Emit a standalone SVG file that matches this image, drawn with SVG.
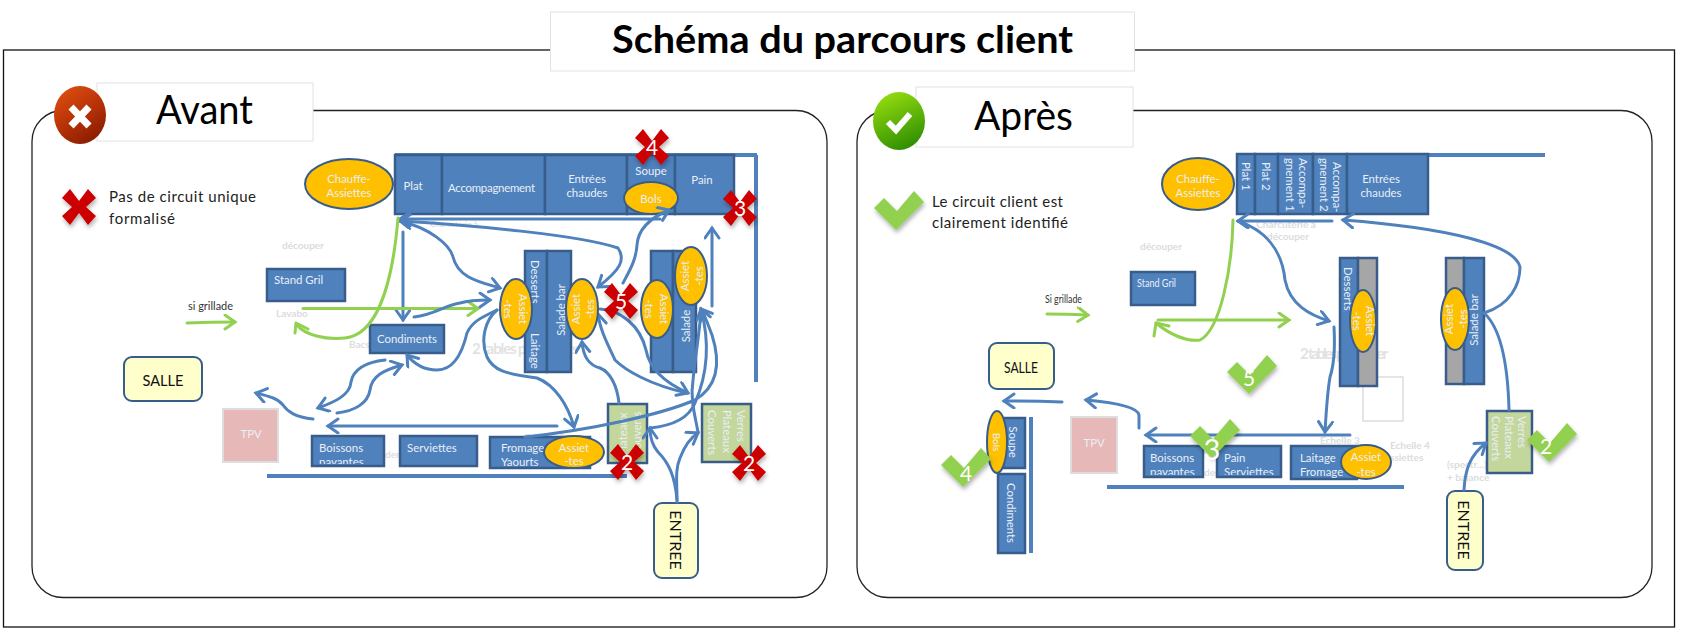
<svg xmlns="http://www.w3.org/2000/svg" xmlns:xlink="http://www.w3.org/1999/xlink" width="1686" height="640" viewBox="0 0 1686 640">
<style>
text{font-family:"Lato","Open Sans","Liberation Sans",sans-serif}
.lab{fill:#fff;stroke:#e2e2e2;stroke-width:1}
.box{fill:#4f81bd;stroke:#385d8a;stroke-width:2.5}
.gray{fill:#a6a6a6;stroke:#385d8a;stroke-width:2.5}
.lime{fill:#c3d69b;stroke:#385d8a;stroke-width:2.5}
.oval{fill:#ffc000;stroke:#385d8a;stroke-width:2}
.cream{fill:#ffffcc;stroke:#385d8a;stroke-width:2}
.tpv{fill:#e6b9b8;stroke:#dddddd;stroke-width:2}
.bar{fill:none;stroke:#4f81bd;stroke-width:4}
.w{fill:#e9eff7;font-size:11.4px}
.wm{fill:#e9eff7;font-size:11.4px;text-anchor:middle}
.k{fill:#111;font-size:16px;text-anchor:middle}
.t{fill:#222;font-size:15px}
.s{fill:#333;font-size:11px}
.f{fill:#dcdcdc;font-size:10px;font-weight:700}
.fb{fill:#e2e2e2;font-size:15px;font-weight:700}
.n{fill:#fff;font-size:21px;text-anchor:middle}
.c{fill:none;stroke:#4f81bd;stroke-width:3;stroke-linecap:round}
.ca{marker-end:url(#ab)}
.g{fill:none;stroke:#92d050;stroke-width:3;stroke-linecap:round}
.ga{marker-end:url(#ag)}
.x{fill:#cc0000;filter:url(#sh)}
.v{fill:#92d050;filter:url(#sh)}
</style>
<defs>
<marker id="ab" markerUnits="userSpaceOnUse" markerWidth="16" markerHeight="18" refX="12" refY="8" orient="auto-start-reverse"><path d="M2 1L12 8L2 15" fill="none" stroke="#4f81bd" stroke-width="3" stroke-linecap="round"/></marker>
<marker id="ag" markerUnits="userSpaceOnUse" markerWidth="16" markerHeight="18" refX="12" refY="8" orient="auto"><path d="M2 1L12 8L2 15" fill="none" stroke="#92d050" stroke-width="3" stroke-linecap="round"/></marker>
<filter id="sh" x="-30%" y="-30%" width="170%" height="170%"><feDropShadow dx="1" dy="3" stdDeviation="2" flood-color="#000" flood-opacity=".3"/></filter>
<linearGradient id="rg" x1="0.2" y1="0" x2="0.8" y2="1"><stop offset="0" stop-color="#dc4f10"/><stop offset=".5" stop-color="#b83208"/><stop offset="1" stop-color="#841a00"/></linearGradient>
<linearGradient id="gg" x1="0.3" y1="0" x2="0.7" y2="1"><stop offset="0" stop-color="#94dc10"/><stop offset="1" stop-color="#2c8c00"/></linearGradient>
<polygon id="cross" points="-17,-9 -9,-18 0,-6 9,-18 17,-9 7,0 17,9 9,18 0,6 -9,18 -17,9 -7,0"/>
<polygon id="check" points="-22,-22 -12,-32 1,-19 18,-39 28,-28 0,0"/>
<clipPath id="c1"><rect x="312" y="436" width="72" height="28"/></clipPath>
<clipPath id="c2"><rect x="1144" y="446" width="140" height="29"/></clipPath>
</defs>
<rect width="1686" height="640" fill="#fff"/>
<g id="frames">
<rect x="3.500" y="50" width="1671" height="577" fill="none" stroke="#111" stroke-width="1.3"/>
<rect x="32" y="110.500" width="795" height="487" rx="31" fill="#fff" stroke="#222" stroke-width="1.3"/>
<rect x="857" y="110.500" width="795" height="487" rx="31" fill="#fff" stroke="#222" stroke-width="1.3"/>
</g>
<g id="title"><rect class="lab" x="550.500" y="12" width="584" height="59"/><text x="612" y="53" font-size="38" font-weight="700" fill="#000" textLength="461" lengthAdjust="spacingAndGlyphs">Schéma du parcours client</text></g>
<g id="avant-label"><rect class="lab" x="97" y="83" width="216" height="58"/><text x="156" y="124" font-size="40" fill="#000" textLength="97" lengthAdjust="spacingAndGlyphs">Avant</text>
<ellipse cx="80" cy="115" rx="26" ry="29" fill="url(#rg)"/><path d="M71 107L89 126M89 107L71 126" stroke="#fff" stroke-width="7"/></g>
<g id="apres-label"><rect class="lab" x="916" y="87" width="217" height="60"/><text x="974" y="130" font-size="40" fill="#000" textLength="99" lengthAdjust="spacingAndGlyphs">Après</text>
<ellipse cx="899" cy="121" rx="26" ry="29" fill="url(#gg)"/><path d="M888 122L896 130L910 114" fill="none" stroke="#fff" stroke-width="6"/></g>
<g id="note-avant"><use href="#cross" class="x" transform="translate(79,207)"/><text class="t" x="109" y="202" textLength="147">Pas de circuit unique</text><text class="t" x="109" y="224" textLength="66">formalisé</text></g>
<g id="note-apres"><use href="#check" class="v" transform="translate(896,230)"/><text class="t" x="932" y="207" textLength="131">Le circuit client est</text><text class="t" x="932" y="228" textLength="136">clairement identifié</text></g>

<g id="faint">
<text class="f" x="303" y="249" text-anchor="middle">découper</text><text class="f" x="276" y="317">Lavabo</text><text class="f" x="349" y="348">Bacs</text>
<text class="f" x="430" y="227" style="font-size:8px">Charcuterie à</text><text class="fb" x="472" y="354" textLength="108">2 tables pour poser</text>
<text class="f" x="525" y="441">Echelle 3</text><text class="f" x="385" y="458">den</text>
<text class="f" x="1161" y="250" text-anchor="middle">découper</text><text class="f" x="1286" y="228" text-anchor="middle">Charcuterie à</text><text class="f" x="1288" y="240" text-anchor="middle">découper</text>
<text class="fb" x="1300" y="359" textLength="88">2 tables pour poser</text><text class="f" x="1320" y="444">Echelle 3</text><text class="f" x="1390" y="449">Echelle 4</text><text class="f" x="1390" y="461">ssiettes</text><text class="f" x="1447" y="468">(spectr...)</text><text class="f" x="1447" y="481">+ balance</text><text class="f" x="1204" y="476">den</text>
<rect x="1363" y="377" width="40" height="44" fill="none" stroke="#dddddd" stroke-width="1.5"/>
</g>
<g id="si-grillade"><text class="s" x="188" y="310" textLength="45" lengthAdjust="spacingAndGlyphs">si grillade</text><text class="s" x="1045" y="303" textLength="37" lengthAdjust="spacingAndGlyphs">Si grillade</text></g>

<g id="n-top-avant"><path class="bar" d="M395 155H757M756 155V382"/>
<rect class="box" x="395" y="155" width="47" height="59"/><text class="wm" x="413" y="190">Plat</text>
<rect class="box" x="442" y="155" width="103" height="59"/><text class="wm" x="491.500" y="192" textLength="87">Accompagnement</text>
<rect class="box" x="545" y="155" width="82" height="59"/><text class="wm" x="587" y="183">Entrées</text><text class="wm" x="587" y="197">chaudes</text>
<rect class="box" x="627" y="155" width="48" height="59"/><text class="wm" x="651" y="175">Soupe</text>
<rect class="box" x="675" y="155" width="59" height="59"/><text class="wm" x="702" y="184">Pain</text></g>
<g id="n-chauffe-avant"><ellipse class="oval" cx="349" cy="184" rx="44" ry="25"/><text class="wm" x="349" y="183">Chauffe-</text><text class="wm" x="349" y="197">Assiettes</text></g>
<g id="n-gril-avant"><rect class="box" x="267" y="269" width="78" height="32"/><text class="w" x="274" y="284">Stand Gril</text></g>
<g id="n-condiments-avant"><rect class="box" x="370" y="325" width="74" height="28"/><text class="wm" x="407" y="343">Condiments</text></g>
<g id="n-salle-avant"><rect class="cream" x="124" y="357" width="78" height="44" rx="8"/><text class="k" x="163" y="386" textLength="41" lengthAdjust="spacingAndGlyphs">SALLE</text></g>
<g id="n-tpv-avant"><rect class="tpv" x="223" y="409" width="55" height="53"/><text class="wm" x="251" y="438">TPV</text></g>
<g id="n-boissons-avant"><rect class="box" x="312" y="436" width="72" height="30"/><g clip-path="url(#c1)"><text class="w" x="319" y="452">Boissons</text><text class="w" x="319" y="466">payantes</text></g></g>
<g id="n-serviettes-avant"><rect class="box" x="400" y="436" width="77" height="30"/><text class="w" x="407" y="452">Serviettes</text></g>
<g id="n-fromage-avant"><rect class="box" x="490" y="437" width="100" height="31"/><text class="w" x="501" y="452">Fromage</text><text class="w" x="501" y="466">Yaourts</text></g>
<g id="n-desserts-avant"><rect class="box" x="525" y="251" width="22" height="121"/><text class="w" transform="translate(531,260) rotate(90)">Desserts</text><text class="w" transform="translate(531,333) rotate(90)">Laitage</text></g>
<g id="n-saladebar-avant"><rect class="box" x="547" y="251" width="24" height="121"/><text class="wm" transform="translate(565,310) rotate(-90)">Salade bar</text></g>
<g id="n-salade-avant"><rect class="box" x="651" y="251" width="22" height="121"/><rect class="box" x="673" y="251" width="23" height="121"/><text class="wm" transform="translate(690,326) rotate(-90)">Salade</text></g>
<g id="n-plateaux-avant"><rect class="lime" x="608" y="404" width="39" height="59"/><text class="wm" transform="translate(627,434) rotate(-90)">Plateaux</text><text class="wm" transform="translate(641,434) rotate(-90)">Couverts</text></g>
<g id="n-verres-avant"><rect class="lime" x="702" y="404" width="49" height="58"/><text class="w" transform="translate(737,410) rotate(90)">Verres</text><text class="w" transform="translate(723,410) rotate(90)">Plateaux</text><text class="w" transform="translate(708,410) rotate(90)">Couverts</text></g>
<g id="n-entree-avant"><rect class="cream" x="654" y="503" width="44" height="75" rx="8"/><text class="k" transform="translate(670,540) rotate(90)">ENTREE</text></g>

<g id="n-top-apres"><path class="bar" d="M1428 155H1545"/>
<rect class="box" x="1237" y="154" width="18" height="60"/><text class="w" transform="translate(1242,162) rotate(90)">Plat 1</text>
<rect class="box" x="1255" y="154" width="23" height="60"/><text class="w" transform="translate(1262,162) rotate(90)">Plat  2</text>
<rect class="box" x="1278" y="154" width="35" height="60"/><text class="w" transform="translate(1299,158) rotate(90)">Accompa-</text><text class="w" transform="translate(1286,158) rotate(90)">gnement 1</text>
<rect class="box" x="1313" y="154" width="34" height="60"/><text class="w" transform="translate(1333,162) rotate(90)">Accompa-</text><text class="w" transform="translate(1320,158) rotate(90)">gnement 2</text>
<rect class="box" x="1347" y="154" width="81" height="60"/><text class="wm" x="1381" y="183">Entrées</text><text class="wm" x="1381" y="197">chaudes</text></g>
<g id="n-chauffe-apres"><ellipse class="oval" cx="1198" cy="184" rx="36" ry="26"/><text class="wm" x="1198" y="183">Chauffe-</text><text class="wm" x="1198" y="197">Assiettes</text></g>
<g id="n-gril-apres"><rect class="box" x="1131" y="272" width="64" height="33"/><text class="w" x="1137" y="287" textLength="39" lengthAdjust="spacingAndGlyphs">Stand Gril</text></g>
<g id="n-salle-apres"><rect class="cream" x="989" y="343" width="65" height="46" rx="8"/><text class="k" x="1021" y="373" textLength="34" lengthAdjust="spacingAndGlyphs">SALLE</text></g>
<g id="n-tpv-apres"><rect class="tpv" x="1071" y="417" width="46" height="56"/><text class="wm" x="1094" y="447">TPV</text></g>
<g id="n-soupe-apres"><rect class="box" x="1003" y="418" width="22" height="50"/><text class="wm" transform="translate(1009,442) rotate(90)">Soupe</text></g>
<g id="n-condiments-apres"><rect class="box" x="998" y="474" width="27" height="79"/><text class="wm" transform="translate(1007,513) rotate(90)">Condiments</text></g>
<path class="bar" d="M1031 417V553"/>
<g id="n-boissons-apres"><rect class="box" x="1144" y="446" width="59" height="31"/><g clip-path="url(#c2)"><text class="w" x="1150" y="462">Boissons</text><text class="w" x="1150" y="476">payantes</text></g></g>
<g id="n-pain-apres"><rect class="box" x="1217" y="446" width="64" height="31"/><g clip-path="url(#c2)"><text class="w" x="1224" y="462">Pain</text><text class="w" x="1224" y="476">Serviettes</text></g></g>
<g id="n-laitage-apres"><rect class="box" x="1291" y="446" width="66" height="33"/><text class="w" x="1300" y="462">Laitage</text><text class="w" x="1300" y="476">Fromage</text></g>
<g id="n-desserts-apres"><rect class="box" x="1340" y="258" width="18" height="128"/><rect class="gray" x="1358" y="258" width="19" height="128"/><text class="w" transform="translate(1344,267) rotate(90)">Desserts</text></g>
<g id="n-salade-apres"><rect class="gray" x="1446" y="258" width="18" height="126"/><rect class="box" x="1464" y="258" width="20" height="126"/><text class="wm" transform="translate(1478,320) rotate(-90)">Salade bar</text></g>
<g id="n-verres-apres"><rect class="lime" x="1487" y="411" width="45" height="62"/><text class="w" transform="translate(1518,416) rotate(90)">Verres</text><text class="w" transform="translate(1505,416) rotate(90)">Plateaux</text><text class="w" transform="translate(1492,416) rotate(90)">Couverts</text></g>
<g id="n-entree-apres"><rect class="cream" x="1447" y="491" width="36" height="79" rx="8"/><text class="k" transform="translate(1458,530) rotate(90)">ENTREE</text></g>

<g id="connectors">
<path class="bar" d="M267 476H627"/><path class="bar" d="M1107 487H1404"/>
<path class="c ca" d="M557 426H328"/>
<path class="g ga" d="M187 323Q210 322 235 322"/>
<path class="c ca" d="M660 219H400"/>
<path class="c ca" d="M400 221C470 225 580 235 618 248C626 260 620 270 598 287" style="marker-start:url(#ab)"/>
<path class="c ca" d="M400 221C430 228 450 245 453 257C458 278 480 282 500 288"/>
<path class="c ca" d="M403 232V320"/>
<path class="g" d="M398 218C392 290 375 335 345 338C325 340 305 335 297 325"/>
<path class="g" d="M296 323L295 333M296 323L308 329"/>
<path class="g ga" d="M303 308.500H478"/>
<path class="c ca" d="M414 317C435 315 445 305 460 303C470 300 480 300 490 300"/>
<path class="c ca" d="M497 310C480 318 472 322 467 333C463 350 455 370 437 370C425 370 415 365 407 355"/>
<path class="c ca" d="M497 310C485 320 480 340 487 357C493 370 505 374 537 378C555 385 568 405 574 427"/>
<path class="c ca" d="M385 360C365 362 353 370 351 382C350 395 335 402 318 408"/>
<path class="c ca" d="M337 413C355 411 368 403 370 390C372 375 385 370 402 365"/>
<path class="c ca" d="M313 419C295 417 288 412 283 405C277 398 268 396 256 393"/>
<path class="c ca" d="M600 309C620 310 640 325 646 350C650 372 670 385 688 393"/>
<path class="c ca" d="M687 393C650 385 625 370 615 360C608 345 600 330 598 314"/>
<path class="c ca" d="M619 403C617 385 610 372 600 368C588 365 583 355 582 342"/>
<path class="c ca" d="M525 437C590 430 660 415 695 400C720 385 720 360 712 335C708 325 705 315 701 309"/>
<path class="c ca" d="M677 502C677 480 675 470 680 458C685 445 690 438 698 433"/>
<path class="c ca" d="M677 500C675 475 668 462 658 452C652 445 650 438 650 428"/>
<path class="c ca" d="M650 428C670 426 688 420 695 403C705 380 712 350 701 309"/>
<path class="c" d="M698 432C695 415 690 400 693 380C696 350 700 330 701 310"/>
<path class="c ca" d="M712 306V228"/>

<path class="g ga" d="M1047 314Q1068 314 1088 315"/>
<path class="c ca" d="M1332 221H1238"/>
<path class="c ca" d="M1238 221C1265 230 1282 250 1285 280C1290 305 1310 315 1329 321"/>
<path class="c ca" d="M1484 313C1510 305 1520 285 1520 267C1515 245 1450 228 1343 220"/>
<path class="c" d="M1509 410C1508 370 1503 330 1484 313"/>
<path class="g" d="M1233 220C1232 270 1220 330 1200 340C1185 342 1168 333 1156 323"/>
<path class="g" d="M1156 323L1154 336M1156 323L1169 326"/>
<path class="g ga" d="M1158 320H1289"/>
<path class="c ca" d="M1334 327C1335 345 1334 365 1330 377C1327 395 1326 415 1325 432"/>
<path class="c ca" d="M1350 435H1146"/>
<path class="c ca" d="M1062 402Q1035 401 1004 401"/>
<path class="c ca" d="M1139 428V415C1138 408 1120 403 1086 400"/>
<path class="c ca" d="M1464 490C1465 470 1470 455 1486 443"/>
</g>

<g id="ovals-avant">
<g><ellipse class="oval" cx="516" cy="309" rx="16" ry="30"/><text class="wm" transform="translate(519,309) rotate(90)">Assiet</text><text class="wm" transform="translate(504,309) rotate(90)">-tes</text></g>
<g><ellipse class="oval" cx="582" cy="309" rx="16" ry="30"/><text class="wm" transform="translate(580,309) rotate(-90)">Assiet</text><text class="wm" transform="translate(594,309) rotate(-90)">-tes</text></g>
<g><ellipse class="oval" cx="657" cy="309" rx="16" ry="29"/><text class="wm" transform="translate(660,309) rotate(90)">Assiet</text><text class="wm" transform="translate(645,309) rotate(90)">-tes</text></g>
<g><ellipse class="oval" cx="691" cy="276" rx="16" ry="29"/><text class="wm" transform="translate(689,276) rotate(-90)">Assiet</text><text class="wm" transform="translate(703,276) rotate(-90)">-tes</text></g>
<g><ellipse class="oval" cx="574" cy="452" rx="30" ry="16"/><text class="wm" x="574" y="452">Assiet</text><text class="wm" x="574" y="465">-tes</text></g>
<g><ellipse class="oval" cx="651" cy="198" rx="27" ry="16"/><text class="wm" x="651" y="203">Bols</text></g>
</g>
<g id="ovals-apres">
<g><ellipse class="oval" cx="1363" cy="321" rx="13" ry="31"/><text class="wm" transform="translate(1366,321) rotate(90)">Assiet</text><text class="wm" transform="translate(1353,321) rotate(90)">-tes</text></g>
<g><ellipse class="oval" cx="1455" cy="319" rx="14" ry="31"/><text class="wm" transform="translate(1453,319) rotate(-90)">Assiet</text><text class="wm" transform="translate(1467,319) rotate(-90)">-tes</text></g>
<g><ellipse class="oval" cx="1366" cy="462" rx="25" ry="17"/><text class="wm" x="1366" y="461">Assiet</text><text class="wm" x="1366" y="476">-tes</text></g>
<g><ellipse class="oval" cx="997" cy="442" rx="10" ry="31"/><text class="wm" transform="translate(993,442) rotate(90)" style="font-size:10px">Bols</text></g>
</g>
<g id="connectors-top"><path class="c ca" d="M623 283C630 270 636 260 637 245C638 230 650 218 669 210"/></g>
<g id="marks-avant">
<g><use href="#cross" class="x" transform="translate(652,147)"/><text class="n" x="652" y="155">4</text></g>
<g><use href="#cross" class="x" transform="translate(740,208)"/><text class="n" x="740" y="216">3</text></g>
<g><use href="#cross" class="x" transform="translate(621,301)"/><text class="n" x="621" y="309">5</text></g>
<g><use href="#cross" class="x" transform="translate(627,462)"/><text class="n" x="627" y="470">2</text></g>
<g><use href="#cross" class="x" transform="translate(749,463)"/><text class="n" x="749" y="471">2</text></g>
</g>
<g id="marks-apres">
<g><use href="#check" class="v" transform="translate(963,487)"/><text class="n" x="966" y="481">4</text></g>
<g><use href="#check" class="v" transform="translate(1249,394)"/><text class="n" x="1249" y="386">5</text></g>
<g><use href="#check" class="v" transform="translate(1212,458)"/><text class="n" x="1212" y="460" style="font-size:29px">3</text></g>
<g><use href="#check" class="v" transform="translate(1549,462)"/><text class="n" x="1546" y="454">2</text></g>
</g>
</svg>
